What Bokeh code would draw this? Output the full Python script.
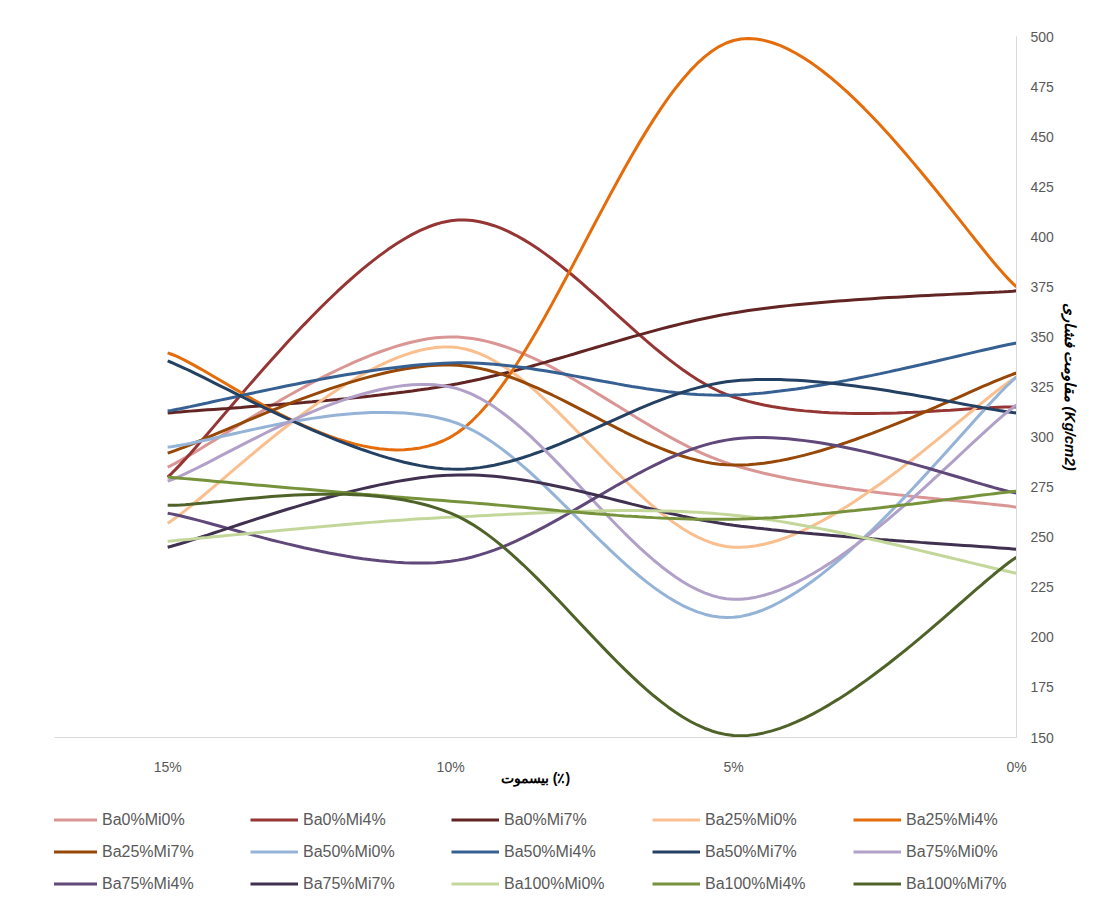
import numpy as np
from bokeh.plotting import figure
from bokeh.layouts import column
from bokeh.models import (Range1d, LinearAxis, FixedTicker, Legend, LegendItem)
from bokeh.embed import file_html
from bokeh.resources import INLINE

categories = ["15%", "10%", "5%", "0%"]
names = ["Ba0%Mi0%", "Ba0%Mi4%", "Ba0%Mi7%", "Ba25%Mi0%", "Ba25%Mi4%",
         "Ba25%Mi7%", "Ba50%Mi0%", "Ba50%Mi4%", "Ba50%Mi7%", "Ba75%Mi0%",
         "Ba75%Mi4%", "Ba75%Mi7%", "Ba100%Mi0%", "Ba100%Mi4%", "Ba100%Mi7%"]
colors = ["#DA9694", "#963634", "#632523", "#FABF8F", "#E46C0A",
          "#974706", "#95B3D7", "#366092", "#244062", "#B1A0C7",
          "#60497A", "#403151", "#C4D79B", "#76933C", "#4F6228"]
values = [
    [285, 350, 286, 265],
    [280, 408, 320, 315],
    [312, 326, 362, 373],
    [257, 345, 245, 330],
    [342, 300, 498, 375],
    [292, 336, 286, 332],
    [295, 308, 210, 330],
    [313, 337, 321, 347],
    [338, 284, 328, 312],
    [278, 325, 219, 316],
    [262, 238, 299, 272],
    [245, 281, 256, 244],
    [248, 260, 261, 232],
    [280, 268, 259, 273],
    [266, 262, 151, 240],
]

def smooth(ys, n=40):
    xs = np.arange(len(ys), dtype=float)
    P = np.column_stack([xs, np.array(ys, float)])
    P = np.vstack([P[0], P, P[-1]])
    out = []
    for i in range(1, len(P) - 2):
        p0, p1, p2, p3 = P[i-1], P[i], P[i+1], P[i+2]
        c1 = p1 + (p2 - p0) / 6
        c2 = p2 - (p3 - p1) / 6
        t = np.linspace(0, 1, n)[:, None]
        b = (1-t)**3*p1 + 3*(1-t)**2*t*c1 + 3*(1-t)*t**2*c2 + t**3*p2
        out.append(b if i == 1 else b[1:])
    B = np.vstack(out)
    return B[:, 0], B[:, 1]

p = figure(frame_width=962, frame_height=701, output_backend="svg", toolbar_location=None,
           x_range=Range1d(-0.4, 3), y_range=Range1d(150, 500),
           min_border_left=54, min_border_right=10, min_border_top=36, min_border_bottom=0,
           outline_line_color=None, background_fill_color="white")
p.xaxis.visible = False
p.yaxis.visible = False
p.xgrid.visible = False
p.ygrid.visible = False

for nm, c, v in zip(names, colors, values):
    x, y = smooth(v)
    p.line(x, y, line_color=c, line_width=3)

xa = LinearAxis(ticker=FixedTicker(ticks=[0, 1, 2, 3]),
                major_label_overrides={i: c for i, c in enumerate(categories)},
                axis_label="بیسموت (٪)", axis_label_text_font_style="bold",
                axis_label_text_font_size="14px", axis_label_standoff=-8,
                axis_line_color="#D9D9D9", major_tick_line_color=None, minor_tick_line_color=None,
                major_label_text_font_size="14px", major_label_text_color="#595959",
                major_label_standoff=15, axis_label_text_color="#000000")
p.add_layout(xa, "below")
ya = LinearAxis(ticker=FixedTicker(ticks=list(range(150, 501, 25))),
                axis_label="مقاومت فشاری (Kg/cm2)", axis_label_text_font_style="bold italic",
                axis_label_text_font_size="15px", axis_line_color="#D9D9D9",
                major_tick_line_color=None, minor_tick_line_color=None,
                major_label_text_font_size="14px", major_label_text_color="#595959",
                major_label_standoff=8, axis_label_text_color="#000000")
p.add_layout(ya, "right")

lf = figure(width=1084, height=120, output_backend="svg", toolbar_location=None,
            x_range=Range1d(100, 101), y_range=Range1d(1000, 1001),
            min_border=0, outline_line_color=None)
lf.axis.visible = False
lf.grid.visible = False
lrs = []
for nm, c, v in zip(names, colors, values):
    x, y = smooth(v)
    lrs.append(lf.line(x, y, line_color=c, line_width=3))

order = [r * 5 + c for c in range(5) for r in range(3)]
legend = Legend(items=[LegendItem(label=names[k], renderers=[lrs[k]]) for k in order],
                ncols=5, location="top_left", label_text_font_size="16px",
                label_text_color="#595959", glyph_width=48, glyph_height=25, label_height=25,
                label_width=141, spacing=7, border_line_color=None, padding=0, margin=0,
                background_fill_alpha=0)
lf.add_layout(legend, "center")
legend.location = (-5, 12)

open("out.html", "w").write(file_html(column(p, lf, spacing=0), INLINE))
